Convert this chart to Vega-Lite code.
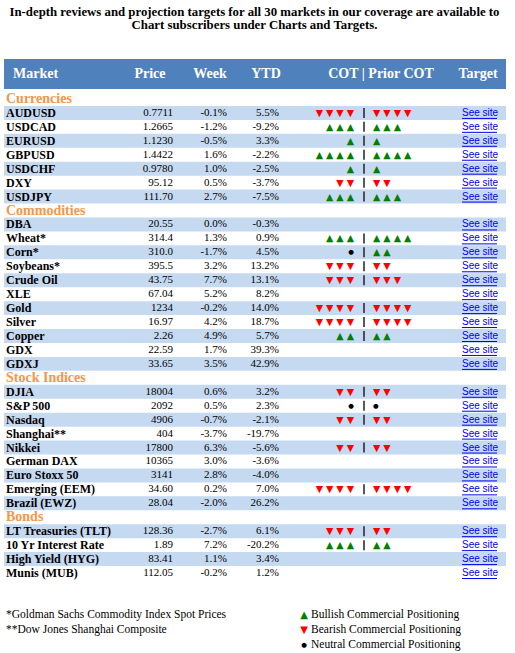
{
  "$schema": "https://vega.github.io/schema/vega-lite/v6.json",
  "padding": {"left": 0, "right": 0, "top": 5, "bottom": 0},
  "background": "white",
  "config": {
    "view": {"stroke": null},
    "text": {"font": "Liberation Serif", "baseline": "middle", "color": "black"}
  },
  "title": {
    "text": ["In-depth reviews and projection targets for all 30 markets in our coverage are available to", "Chart subscribers under Charts and Targets."],
    "anchor": "middle",
    "font": "Liberation Serif",
    "fontSize": 12.8,
    "fontWeight": "bold",
    "color": "black",
    "lineHeight": 13.5,
    "offset": 27,
    "dx": -3
  },
  "datasets": {
    "header": [
      {"label": "Market"}, {"label": "Price"}, {"label": "Week"}, {"label": "YTD"}, {"label": "COT | Prior COT"}, {"label": "Target"}
    ],
    "rows": [
      {"name": "Currencies", "section": "Currencies", "kind": "section"},
      {"name": "AUDUSD", "section": "Currencies", "kind": "market", "price": "0.7711", "week": "-0.1%", "ytd": "5.5%", "cot": "▼ ▼ ▼ ▼", "cotDir": "bear", "prior": "▼ ▼ ▼ ▼", "priorDir": "bear", "target": "See site"},
      {"name": "USDCAD", "section": "Currencies", "kind": "market", "price": "1.2665", "week": "-1.2%", "ytd": "-9.2%", "cot": "▲ ▲ ▲", "cotDir": "bull", "prior": "▲ ▲ ▲", "priorDir": "bull", "target": "See site"},
      {"name": "EURUSD", "section": "Currencies", "kind": "market", "price": "1.1230", "week": "-0.5%", "ytd": "3.3%", "cot": "▲", "cotDir": "bull", "prior": "▲", "priorDir": "bull", "target": "See site"},
      {"name": "GBPUSD", "section": "Currencies", "kind": "market", "price": "1.4422", "week": "1.6%", "ytd": "-2.2%", "cot": "▲ ▲ ▲ ▲", "cotDir": "bull", "prior": "▲ ▲ ▲ ▲", "priorDir": "bull", "target": "See site"},
      {"name": "USDCHF", "section": "Currencies", "kind": "market", "price": "0.9780", "week": "1.0%", "ytd": "-2.5%", "cot": "▲", "cotDir": "bull", "prior": "▲", "priorDir": "bull", "target": "See site"},
      {"name": "DXY", "section": "Currencies", "kind": "market", "price": "95.12", "week": "0.5%", "ytd": "-3.7%", "cot": "▼ ▼", "cotDir": "bear", "prior": "▼ ▼", "priorDir": "bear", "target": "See site"},
      {"name": "USDJPY", "section": "Currencies", "kind": "market", "price": "111.70", "week": "2.7%", "ytd": "-7.5%", "cot": "▲ ▲ ▲", "cotDir": "bull", "prior": "▲ ▲ ▲", "priorDir": "bull", "target": "See site"},
      {"name": "Commodities", "section": "Commodities", "kind": "section"},
      {"name": "DBA", "section": "Commodities", "kind": "market", "price": "20.55", "week": "0.0%", "ytd": "-0.3%", "target": "See site"},
      {"name": "Wheat*", "section": "Commodities", "kind": "market", "price": "314.4", "week": "1.3%", "ytd": "0.9%", "cot": "▲ ▲ ▲", "cotDir": "bull", "prior": "▲ ▲ ▲ ▲", "priorDir": "bull", "target": "See site"},
      {"name": "Corn*", "section": "Commodities", "kind": "market", "price": "310.0", "week": "-1.7%", "ytd": "4.5%", "cot": "●", "cotDir": "neutral", "prior": "▲ ▲", "priorDir": "bull", "target": "See site"},
      {"name": "Soybeans*", "section": "Commodities", "kind": "market", "price": "395.5", "week": "3.2%", "ytd": "13.2%", "cot": "▼ ▼ ▼", "cotDir": "bear", "prior": "▼ ▼", "priorDir": "bear", "target": "See site"},
      {"name": "Crude Oil", "section": "Commodities", "kind": "market", "price": "43.75", "week": "7.7%", "ytd": "13.1%", "cot": "▼ ▼ ▼", "cotDir": "bear", "prior": "▼ ▼ ▼", "priorDir": "bear", "target": "See site"},
      {"name": "XLE", "section": "Commodities", "kind": "market", "price": "67.04", "week": "5.2%", "ytd": "8.2%", "target": "See site"},
      {"name": "Gold", "section": "Commodities", "kind": "market", "price": "1234", "week": "-0.2%", "ytd": "14.0%", "cot": "▼ ▼ ▼ ▼", "cotDir": "bear", "prior": "▼ ▼ ▼ ▼", "priorDir": "bear", "target": "See site"},
      {"name": "Silver", "section": "Commodities", "kind": "market", "price": "16.97", "week": "4.2%", "ytd": "18.7%", "cot": "▼ ▼ ▼ ▼", "cotDir": "bear", "prior": "▼ ▼ ▼ ▼", "priorDir": "bear", "target": "See site"},
      {"name": "Copper", "section": "Commodities", "kind": "market", "price": "2.26", "week": "4.9%", "ytd": "5.7%", "cot": "▲ ▲", "cotDir": "bull", "prior": "▲ ▲", "priorDir": "bull", "target": "See site"},
      {"name": "GDX", "section": "Commodities", "kind": "market", "price": "22.59", "week": "1.7%", "ytd": "39.3%", "target": "See site"},
      {"name": "GDXJ", "section": "Commodities", "kind": "market", "price": "33.65", "week": "3.5%", "ytd": "42.9%", "target": "See site"},
      {"name": "Stock Indices", "section": "Stock Indices", "kind": "section"},
      {"name": "DJIA", "section": "Stock Indices", "kind": "market", "price": "18004", "week": "0.6%", "ytd": "3.2%", "cot": "▼ ▼", "cotDir": "bear", "prior": "▼ ▼", "priorDir": "bear", "target": "See site"},
      {"name": "S&P 500", "section": "Stock Indices", "kind": "market", "price": "2092", "week": "0.5%", "ytd": "2.3%", "cot": "●", "cotDir": "neutral", "prior": "●", "priorDir": "neutral", "target": "See site"},
      {"name": "Nasdaq", "section": "Stock Indices", "kind": "market", "price": "4906", "week": "-0.7%", "ytd": "-2.1%", "cot": "▼ ▼", "cotDir": "bear", "prior": "▼ ▼", "priorDir": "bear", "target": "See site"},
      {"name": "Shanghai**", "section": "Stock Indices", "kind": "market", "price": "404", "week": "-3.7%", "ytd": "-19.7%", "target": "See site"},
      {"name": "Nikkei", "section": "Stock Indices", "kind": "market", "price": "17800", "week": "6.3%", "ytd": "-5.6%", "cot": "▼ ▼", "cotDir": "bear", "prior": "▼ ▼", "priorDir": "bear", "target": "See site"},
      {"name": "German DAX", "section": "Stock Indices", "kind": "market", "price": "10365", "week": "3.0%", "ytd": "-3.6%", "target": "See site"},
      {"name": "Euro Stoxx 50", "section": "Stock Indices", "kind": "market", "price": "3141", "week": "2.8%", "ytd": "-4.0%", "target": "See site"},
      {"name": "Emerging (EEM)", "section": "Stock Indices", "kind": "market", "price": "34.60", "week": "0.2%", "ytd": "7.0%", "cot": "▼ ▼ ▼ ▼", "cotDir": "bear", "prior": "▼ ▼ ▼ ▼", "priorDir": "bear", "target": "See site"},
      {"name": "Brazil (EWZ)", "section": "Stock Indices", "kind": "market", "price": "28.04", "week": "-2.0%", "ytd": "26.2%", "target": "See site"},
      {"name": "Bonds", "section": "Bonds", "kind": "section"},
      {"name": "LT Treasuries (TLT)", "section": "Bonds", "kind": "market", "price": "128.36", "week": "-2.7%", "ytd": "6.1%", "cot": "▼ ▼ ▼", "cotDir": "bear", "prior": "▼ ▼", "priorDir": "bear", "target": "See site"},
      {"name": "10 Yr Interest Rate", "section": "Bonds", "kind": "market", "price": "1.89", "week": "7.2%", "ytd": "-20.2%", "cot": "▲ ▲ ▲", "cotDir": "bull", "prior": "▲ ▲", "priorDir": "bull", "target": "See site"},
      {"name": "High Yield (HYG)", "section": "Bonds", "kind": "market", "price": "83.41", "week": "1.1%", "ytd": "3.4%", "target": "See site"},
      {"name": "Munis (MUB)", "section": "Bonds", "kind": "market", "price": "112.05", "week": "-0.2%", "ytd": "1.2%", "target": "See site"}
    ],
    "notes": [
      {"note": "*Goldman Sachs Commodity Index Spot Prices", "sym": "▲", "dir": "bull", "label": "Bullish Commercial Positioning"},
      {"note": "**Dow Jones Shanghai Composite", "sym": "▼", "dir": "bear", "label": "Bearish Commercial Positioning"},
      {"note": "", "sym": "●", "dir": "neutral", "label": "Neutral Commercial Positioning"}
    ]
  },
  "spacing": 28,
  "vconcat": [
    {
      "spacing": 2,
      "vconcat": [
        {
          "width": 515,
          "height": 30,
          "data": {"name": "header"},
          "layer": [
            {
              "mark": {"type": "rect", "color": "#4f81bd"},
              "encoding": {
                "x": {"datum": 4, "type": "quantitative", "scale": {"domain": [0, 515], "nice": false}, "axis": null},
                "x2": {"datum": 506}
              }
            },
            {
              "transform": [{"filter": "datum.label == 'Market'"}],
              "mark": {"type": "text", "align": "left", "color": "white", "fontWeight": "bold", "fontSize": 14},
              "encoding": {"x": {"datum": 13, "type": "quantitative"}, "text": {"field": "label"}}
            },
            {
              "transform": [{"filter": "datum.label == 'Price'"}],
              "mark": {"type": "text", "align": "center", "color": "white", "fontWeight": "bold", "fontSize": 14},
              "encoding": {"x": {"datum": 150, "type": "quantitative"}, "text": {"field": "label"}}
            },
            {
              "transform": [{"filter": "datum.label == 'Week'"}],
              "mark": {"type": "text", "align": "center", "color": "white", "fontWeight": "bold", "fontSize": 14},
              "encoding": {"x": {"datum": 210, "type": "quantitative"}, "text": {"field": "label"}}
            },
            {
              "transform": [{"filter": "datum.label == 'YTD'"}],
              "mark": {"type": "text", "align": "center", "color": "white", "fontWeight": "bold", "fontSize": 14},
              "encoding": {"x": {"datum": 266, "type": "quantitative"}, "text": {"field": "label"}}
            },
            {
              "transform": [{"filter": "datum.label == 'COT | Prior COT'"}],
              "mark": {"type": "text", "align": "center", "color": "white", "fontWeight": "bold", "fontSize": 14},
              "encoding": {"x": {"datum": 381, "type": "quantitative"}, "text": {"field": "label"}}
            },
            {
              "transform": [{"filter": "datum.label == 'Target'"}],
              "mark": {"type": "text", "align": "center", "color": "white", "fontWeight": "bold", "fontSize": 14},
              "encoding": {"x": {"datum": 478, "type": "quantitative"}, "text": {"field": "label"}}
            }
          ]
        },
        {
          "width": 515,
          "height": 488,
          "data": {"name": "rows"},
          "transform": [
            {"window": [{"op": "row_number", "as": "row"}]},
            {"window": [{"op": "row_number", "as": "sidx"}], "groupby": ["section"]}
          ],
          "encoding": {
            "y": {"field": "row", "type": "ordinal", "scale": {"type": "band", "paddingInner": 0, "paddingOuter": 0}, "axis": null}
          },
          "layer": [
            {
              "transform": [{"filter": "datum.kind == 'market' && datum.sidx % 2 == 0"}],
              "mark": {"type": "rect", "color": "#c5d9f1"},
              "encoding": {
                "x": {"datum": 4, "type": "quantitative", "scale": {"domain": [0, 515], "nice": false}, "axis": null},
                "x2": {"datum": 506}
              }
            },
            {
              "transform": [{"filter": "datum.kind == 'section'"}],
              "mark": {"type": "text", "align": "left", "color": "#f79646", "fontWeight": "bold", "fontSize": 14},
              "encoding": {"x": {"datum": 6, "type": "quantitative"}, "text": {"field": "name"}}
            },
            {
              "transform": [{"filter": "datum.kind == 'market'"}],
              "mark": {"type": "text", "align": "left", "fontWeight": "bold", "fontSize": 12},
              "encoding": {"x": {"datum": 6, "type": "quantitative"}, "text": {"field": "name"}}
            },
            {
              "transform": [{"filter": "datum.kind == 'market'"}],
              "mark": {"type": "text", "align": "right", "fontSize": 11},
              "encoding": {"x": {"datum": 173, "type": "quantitative"}, "text": {"field": "price"}}
            },
            {
              "transform": [{"filter": "datum.kind == 'market'"}],
              "mark": {"type": "text", "align": "right", "fontSize": 11},
              "encoding": {"x": {"datum": 227, "type": "quantitative"}, "text": {"field": "week"}}
            },
            {
              "transform": [{"filter": "datum.kind == 'market'"}],
              "mark": {"type": "text", "align": "right", "fontSize": 11},
              "encoding": {"x": {"datum": 279, "type": "quantitative"}, "text": {"field": "ytd"}}
            },
            {
              "transform": [{"filter": "datum.cot"}],
              "mark": {"type": "text", "align": "right", "font": "DejaVu Sans"},
              "encoding": {
                "x": {"datum": 354, "type": "quantitative"},
                "text": {"field": "cot"},
                "size": {"condition": {"test": "datum.cotDir == 'neutral'", "value": 6.5}, "value": 9.5},
                "color": {"field": "cotDir", "type": "nominal", "scale": {"domain": ["bull", "bear", "neutral"], "range": ["#008000", "#ff0000", "#000000"]}, "legend": null}
              }
            },
            {
              "transform": [{"filter": "datum.cot"}],
              "mark": {"type": "rule", "color": "#222222", "strokeWidth": 1.5, "yOffset": -5, "y2Offset": 5},
              "encoding": {"x": {"datum": 364, "type": "quantitative"}, "y2": {"field": "row", "type": "ordinal"}}
            },
            {
              "transform": [{"filter": "datum.prior"}],
              "mark": {"type": "text", "align": "left", "font": "DejaVu Sans"},
              "encoding": {
                "x": {"datum": 373, "type": "quantitative"},
                "text": {"field": "prior"},
                "size": {"condition": {"test": "datum.priorDir == 'neutral'", "value": 6.5}, "value": 9.5},
                "color": {"field": "priorDir", "type": "nominal", "legend": null}
              }
            },
            {
              "transform": [{"filter": "datum.kind == 'market'"}],
              "mark": {"type": "text", "align": "left", "font": "Liberation Sans", "fontSize": 10, "color": "#0000ee"},
              "encoding": {"x": {"datum": 462, "type": "quantitative"}, "text": {"field": "target"}}
            },
            {
              "transform": [{"filter": "datum.kind == 'market'"}],
              "mark": {"type": "rule", "color": "#0000ee", "strokeWidth": 1, "yOffset": 5.5},
              "encoding": {"x": {"datum": 462, "type": "quantitative"}, "x2": {"datum": 497}}
            }
          ]
        }
      ]
    },
    {
      "width": 515,
      "height": 44,
      "data": {"name": "notes"},
      "transform": [{"window": [{"op": "row_number", "as": "line"}]}],
      "encoding": {
        "y": {"field": "line", "type": "ordinal", "scale": {"type": "band", "paddingInner": 0, "paddingOuter": 0}, "axis": null}
      },
      "layer": [
        {
          "mark": {"type": "text", "align": "left", "fontSize": 11.5},
          "encoding": {
            "x": {"datum": 6, "type": "quantitative", "scale": {"domain": [0, 515], "nice": false}, "axis": null},
            "text": {"field": "note"}
          }
        },
        {
          "mark": {"type": "text", "align": "center", "font": "DejaVu Sans"},
          "encoding": {
            "x": {"datum": 304, "type": "quantitative"},
            "text": {"field": "sym"},
            "size": {"condition": {"test": "datum.dir == 'neutral'", "value": 6.5}, "value": 10},
            "color": {"field": "dir", "type": "nominal", "scale": {"domain": ["bull", "bear", "neutral"], "range": ["#008000", "#ff0000", "#000000"]}, "legend": null}
          }
        },
        {
          "mark": {"type": "text", "align": "left", "fontSize": 11.5},
          "encoding": {"x": {"datum": 311, "type": "quantitative"}, "text": {"field": "label"}}
        }
      ]
    }
  ]
}
